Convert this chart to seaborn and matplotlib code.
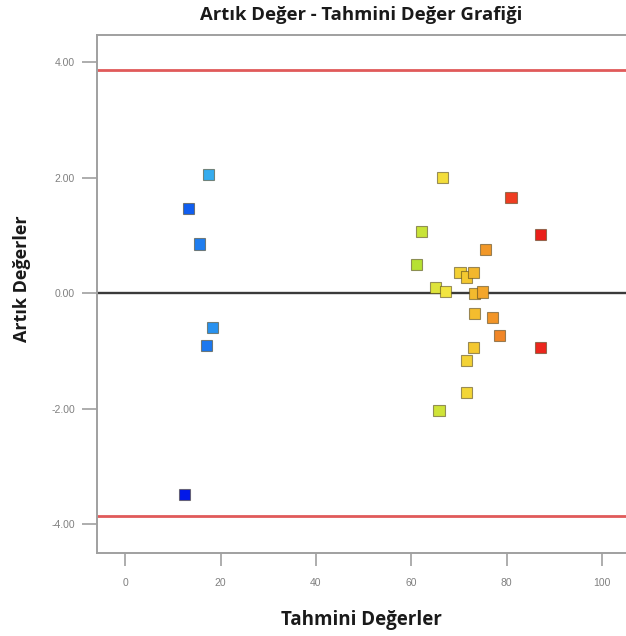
import matplotlib
matplotlib.use("Agg")
import matplotlib.pyplot as plt
from matplotlib.colors import LinearSegmentedColormap, Normalize
import seaborn as sns
import pandas as pd

# Predicted values and residuals of the fitted model
tahmini = [17.4, 13.2, 15.5, 18.4, 17.0, 12.4,
           66.5, 80.9, 62.1, 87.0, 75.5, 61.0, 70.2, 71.5, 73.0, 65.0,
           67.1, 73.2, 75.0, 73.2, 77.0, 78.4, 87.0, 73.0, 71.5, 71.5, 65.8]
artik = [2.06, 1.46, 0.85, -0.59, -0.90, -3.48,
         2.00, 1.66, 1.07, 1.02, 0.76, 0.50, 0.35, 0.28, 0.35, 0.10,
         0.03, -0.01, 0.02, -0.35, -0.42, -0.73, -0.94, -0.94, -1.16, -1.72, -2.04]
kontrol_siniri = 3.86
x_ticks = [0, 20, 40, 60, 80, 100]
y_ticks = [-4, -2, 0, 2, 4]

df = pd.DataFrame({"Tahmini": tahmini, "Artik": artik})
df["Gozlenen"] = df["Tahmini"] + df["Artik"]

renk_skalasi = LinearSegmentedColormap.from_list(
    "mavi_kirmizi",
    [(0.00, "#0010e8"), (0.08, "#1060f0"), (0.14, "#38b0ee"),
     (0.64, "#a8e030"), (0.72, "#f2e640"), (0.78, "#f4c830"),
     (0.84, "#f29428"), (0.92, "#ee3020"), (1.00, "#e81818")])

sns.set_style("white")
plt.rcParams["font.family"] = ["Open Sans", "DejaVu Sans"]

fig = plt.figure(figsize=(6.26, 6.36), dpi=100)
ax = fig.add_axes([0.155, 0.1305, 0.845, 0.8145])

ax.axhline(kontrol_siniri, color="#e05a5a", lw=2, zorder=1)
ax.axhline(-kontrol_siniri, color="#e05a5a", lw=2, zorder=1)
ax.axhline(0, color="#3a3a3a", lw=1.7, zorder=1)

sns.scatterplot(data=df, x="Tahmini", y="Artik", hue="Gozlenen",
                palette=renk_skalasi, hue_norm=Normalize(8, 90),
                marker="s", s=64, edgecolor=(0.3, 0.25, 0.1, 0.55),
                linewidth=0.8, legend=False, ax=ax, zorder=3)

ax.set_xlim(-5.9, 105)
ax.set_ylim(-4.5, 4.47)
ax.set_xticks(x_ticks)
ax.set_xticklabels([str(v) for v in x_ticks])
ax.set_yticks(y_ticks)
ax.set_yticklabels([f"{v:.2f}" for v in y_ticks])

for side in ["left", "bottom", "top"]:
    ax.spines[side].set_color("#a0a0a0")
    ax.spines[side].set_linewidth(1.4)
ax.spines["right"].set_visible(False)

ax.tick_params(axis="both", which="major", direction="out", color="#a0a0a0",
               labelcolor="#808080", width=1.2, labelsize=7.5)
ax.tick_params(axis="y", length=11, pad=5, left=True)
ax.tick_params(axis="x", length=9, pad=9, bottom=True)
for lab in ax.get_xticklabels() + ax.get_yticklabels():
    lab.set_family(["Liberation Sans", "DejaVu Sans"])

ax.set_xlabel("Tahmini Değerler", fontsize=13.5, fontweight="bold",
              color="#1a1a1a", labelpad=16)
ax.set_ylabel("Artık Değerler", fontsize=13, fontweight="bold",
              color="#1a1a1a")
ax.yaxis.set_label_coords(-0.125, 0.53)
fig.text(0.577, 0.976, "Artık Değer - Tahmini Değer Grafiği", ha="center",
         va="center", fontsize=13.3, fontweight="bold", color="#1a1a1a")

fig.savefig("out.png", dpi=100, facecolor="white")
